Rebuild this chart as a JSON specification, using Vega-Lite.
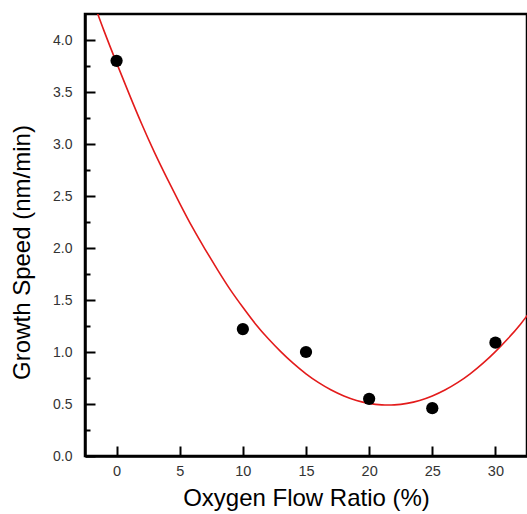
{
  "$schema": "https://vega.github.io/schema/vega-lite/v6.json",
  "width": 442,
  "height": 442,
  "autosize": {"type": "none"},
  "padding": {"left": 85, "top": 14, "right": 0, "bottom": 58},
  "background": "white",
  "config": {
    "view": {"stroke": "black", "strokeWidth": 2.5},
    "font": "Liberation Sans"
  },
  "datasets": {
    "points": [
      {"ratio": 0, "speed": 3.8},
      {"ratio": 10, "speed": 1.22},
      {"ratio": 15, "speed": 1.0},
      {"ratio": 20, "speed": 0.55},
      {"ratio": 25, "speed": 0.46},
      {"ratio": 30, "speed": 1.09}
    ],
    "fit": [
      {"ratio": -2, "speed": 4.42}, {"ratio": -1, "speed": 4.09}, {"ratio": 0, "speed": 3.78},
      {"ratio": 1, "speed": 3.48}, {"ratio": 2, "speed": 3.19}, {"ratio": 3, "speed": 2.92},
      {"ratio": 4, "speed": 2.67}, {"ratio": 5, "speed": 2.43}, {"ratio": 6, "speed": 2.2},
      {"ratio": 7, "speed": 1.99}, {"ratio": 8, "speed": 1.79}, {"ratio": 9, "speed": 1.6},
      {"ratio": 10, "speed": 1.43}, {"ratio": 11, "speed": 1.27}, {"ratio": 12, "speed": 1.13},
      {"ratio": 13, "speed": 1.004}, {"ratio": 14, "speed": 0.89}, {"ratio": 15, "speed": 0.79},
      {"ratio": 16, "speed": 0.705}, {"ratio": 17, "speed": 0.634}, {"ratio": 18, "speed": 0.577},
      {"ratio": 19, "speed": 0.534}, {"ratio": 20, "speed": 0.506}, {"ratio": 21, "speed": 0.492},
      {"ratio": 22, "speed": 0.492}, {"ratio": 23, "speed": 0.506}, {"ratio": 24, "speed": 0.534},
      {"ratio": 25, "speed": 0.577}, {"ratio": 26, "speed": 0.634}, {"ratio": 27, "speed": 0.705},
      {"ratio": 28, "speed": 0.79}, {"ratio": 29, "speed": 0.89}, {"ratio": 30, "speed": 1.004},
      {"ratio": 31, "speed": 1.13}, {"ratio": 32, "speed": 1.27}, {"ratio": 33, "speed": 1.43}
    ]
  },
  "encoding": {
    "x": {
      "field": "ratio", "type": "quantitative",
      "scale": {"domain": [-2.5, 32.5], "nice": false, "zero": false},
      "axis": {
        "title": "Oxygen Flow Ratio (%)",
        "values": [0, 5, 10, 15, 20, 25, 30],
        "grid": false,
        "domainColor": "black", "domainWidth": 2.5,
        "tickColor": "black", "tickWidth": 2, "tickSize": -10,
        "labelPadding": 18, "labelFontSize": 14.5, "labelColor": "#333333",
        "labelFont": "Liberation Sans",
        "titleFont": "Liberation Sans", "titleFontSize": 24, "titleFontWeight": "normal",
        "titleColor": "black", "titlePadding": 9
      }
    },
    "y": {
      "field": "speed", "type": "quantitative",
      "scale": {"domain": [0, 4.25], "nice": false},
      "axis": {
        "title": "Growth Speed (nm/min)",
        "values": [0, 0.25, 0.5, 0.75, 1, 1.25, 1.5, 1.75, 2, 2.25, 2.5, 2.75, 3, 3.25, 3.5, 3.75, 4],
        "labelExpr": "datum.value * 2 % 1 == 0 ? format(datum.value, '.1f') : ''",
        "grid": false,
        "domainColor": "black", "domainWidth": 2.5,
        "tickColor": "black", "tickWidth": 2,
        "tickSize": {"condition": {"test": "datum.value * 2 % 1 == 0", "value": -10}, "value": -5},
        "labelPadding": 23, "labelFontSize": 14, "labelColor": "#333333",
        "labelFont": "Liberation Sans",
        "titleFont": "Liberation Sans", "titleFontSize": 24, "titleFontWeight": "normal",
        "titleColor": "black", "titlePadding": 18, "titleY": 238
      }
    }
  },
  "layer": [
    {
      "data": {"name": "fit"},
      "mark": {"type": "line", "color": "#e31b1b", "strokeWidth": 1.6, "clip": true, "interpolate": "natural"}
    },
    {
      "data": {"name": "points"},
      "mark": {"type": "point", "filled": true, "color": "black", "opacity": 1, "size": 150}
    }
  ]
}
